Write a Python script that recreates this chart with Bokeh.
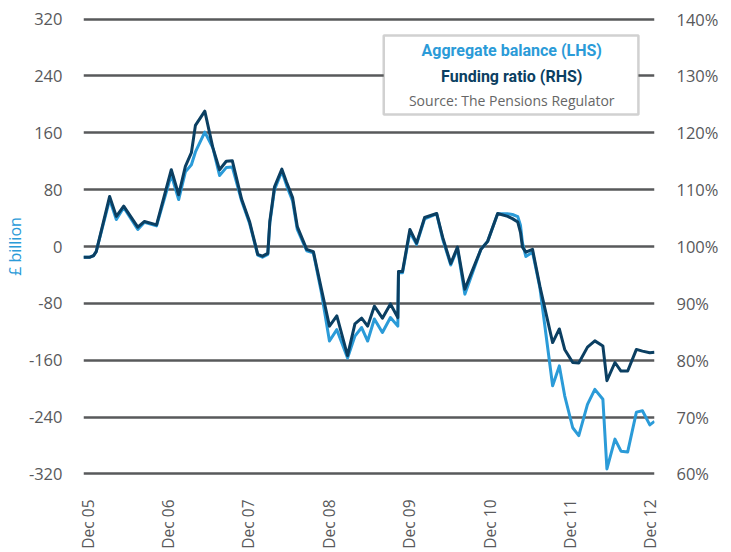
from bokeh.plotting import figure
from bokeh.models import Range1d, LinearAxis, FixedTicker, Label, BoxAnnotation
from bokeh.embed import file_html
from bokeh.resources import INLINE
import math

# months since Dec 2005
months = [-0.6, 0.3, 0.9, 1.3, 3.3, 4.3, 5.4, 7.5, 8.5, 10.3,
          12.5, 13.6, 14.6, 15.5, 16.1, 17.5, 18.7, 19.7, 20.7, 21.6,
          23.0, 24.2, 25.4, 26.1, 26.9, 27.2, 27.9, 29.0, 29.7, 30.6,
          31.3, 32.7, 33.7, 34.9, 36.1, 37.2, 38.8, 39.9, 40.9, 41.8,
          42.8, 44.0, 45.2, 46.3, 46.4, 47.0, 48.1, 49.1, 50.3, 52.1,
          53.0, 54.2, 55.2, 56.3, 58.7, 59.7, 61.2, 62.7, 63.4, 64.2,
          64.6, 64.9, 65.4, 66.4, 67.5, 69.4, 70.4, 71.2, 72.4, 73.3,
          74.6, 75.7, 76.9, 77.5, 78.7, 79.6, 80.6, 81.9, 82.8, 83.9,
          84.6]

# Aggregate balance, £ billion (LHS)
balance = [-15, -15, -13, -7, 66, 38, 55, 24, 34, 29,
           101, 66, 105, 115, 133, 161, 139, 100, 111, 112,
           64, 32, -12, -15, -11, 33, 80, 106, 86, 64,
           24, -6, -9, -65, -133, -117, -157, -126, -114, -133,
           -102, -121, -100, -112, -37, -37, 20, 3, 39, 46,
           10, -26, -3, -67, -4, 7, 46, 46, 45, 42,
           30, 5, -14, -8, -58, -196, -168, -210, -255, -266,
           -222, -201, -215, -313, -271, -288, -289, -233, -231, -251,
           -246]

# Funding ratio, % (RHS)
funding = [98.1, 98.1, 98.4, 99.1, 108.8, 105.3, 107.1, 103.4, 104.4, 103.8,
           113.5, 109.1, 114.1, 116.5, 121.3, 123.8, 117.4, 113.5, 115.0, 115.1,
           108.3, 104.3, 98.6, 98.3, 98.8, 104.4, 110.5, 113.6, 111.3, 108.6,
           103.5, 99.5, 99.1, 92.5, 86.0, 87.8, 80.8, 86.4, 87.4, 86.0,
           89.5, 87.4, 89.9, 87.5, 95.6, 95.6, 103.0, 100.6, 105.1, 105.8,
           101.6, 97.0, 99.9, 92.5, 99.5, 100.9, 105.8, 105.3, 104.9, 104.3,
           102.5, 99.9, 99.0, 99.5, 93.0, 83.1, 85.5, 81.9, 79.6, 79.5,
           82.3, 83.4, 82.5, 76.4, 79.6, 78.1, 78.1, 81.9, 81.6, 81.3,
           81.4]

x_ticks = [0, 12, 24, 36, 48, 60, 72, 84]
x_labels = ["Dec 05", "Dec 06", "Dec 07", "Dec 08", "Dec 09", "Dec 10", "Dec 11", "Dec 12"]
left_ticks = [-320, -240, -160, -80, 0, 80, 160, 240, 320]
left_labels = ["-320", "-240", "-160", "-80", "0", "80", "160", "240", "320"]
right_ticks = [60, 70, 80, 90, 100, 110, 120, 130, 140]
right_labels = ["60%", "70%", "80%", "90%", "100%", "110%", "120%", "130%", "140%"]

LIGHT = "#2b9bd8"
DARK = "#0b3f62"
GRID = "#58595b"
TXT = "#58595b"
FONT = "Open Sans"

p = figure(frame_width=571, frame_height=462, output_backend="svg", toolbar_location=None,
           x_range=Range1d(-0.6, 84.6), y_range=Range1d(-325, 325),
           min_border_left=76, min_border_right=60, min_border_top=15, min_border_bottom=66)
p.outline_line_color = None
p.background_fill_color = "white"
p.border_fill_color = "white"

p.extra_y_ranges = {"ratio": Range1d(100 - 325 / 8, 100 + 325 / 8)}

# grid
p.xgrid.grid_line_color = None
p.ygrid.grid_line_color = GRID
p.ygrid.grid_line_width = 2.5
p.ygrid.ticker = FixedTicker(ticks=left_ticks)

for ax in [p.xaxis[0], p.yaxis[0]]:
    ax.axis_line_color = None
    ax.major_tick_line_color = None
    ax.minor_tick_line_color = None
    ax.major_label_text_color = TXT
    ax.major_label_text_font = FONT

p.xaxis.ticker = FixedTicker(ticks=x_ticks)
p.xaxis.major_label_overrides = {t: l for t, l in zip(x_ticks, x_labels)}
p.xaxis.major_label_orientation = math.pi / 2
p.xaxis.major_label_standoff = 16
p.xaxis.major_label_text_font_size = "15.5px"

p.yaxis.ticker = FixedTicker(ticks=left_ticks)
p.yaxis.major_label_overrides = {t: l for t, l in zip(left_ticks, left_labels)}
p.yaxis.major_label_standoff = 15
p.yaxis.major_label_text_font_size = "16.5px"
p.yaxis.axis_label = "£ billion"
p.yaxis.axis_label_text_color = LIGHT
p.yaxis.axis_label_text_font = FONT
p.yaxis.axis_label_text_font_style = "normal"
p.yaxis.axis_label_text_font_size = "16px"
p.yaxis.axis_label_standoff = 0

ra = LinearAxis(y_range_name="ratio", ticker=FixedTicker(ticks=right_ticks))
ra.major_label_overrides = {t: l for t, l in zip(right_ticks, right_labels)}
ra.axis_line_color = None
ra.major_tick_line_color = None
ra.minor_tick_line_color = None
ra.major_label_text_color = TXT
ra.major_label_text_font = FONT
ra.major_label_text_font_size = "16.5px"
ra.major_label_standoff = 16
p.add_layout(ra, "right")

p.line(months, balance, line_color=LIGHT, line_width=3, line_join="round")
p.line(months, funding, line_color=DARK, line_width=3, line_join="round", y_range_name="ratio")

# legend box
box = BoxAnnotation(left=44.2, right=82.2, bottom=185.7, top=296.8,
                    fill_color="white", fill_alpha=1.0, line_color="#666666", line_width=2.5)
p.add_layout(box)
xc = 63.3
p.add_layout(Label(x=xc, y=276, text="Aggregate balance (LHS)", text_align="center", text_baseline="middle",
                   text_color=LIGHT, text_font="Roboto", text_font_style="bold", text_font_size="16px"))
p.add_layout(Label(x=xc, y=239, text="Funding ratio (RHS)", text_align="center", text_baseline="middle",
                   text_color=DARK, text_font="Roboto", text_font_style="bold", text_font_size="16px"))
p.add_layout(Label(x=xc, y=205, text="Source: The Pensions Regulator", text_align="center", text_baseline="middle",
                   text_color="#666666", text_font=FONT, text_font_size="14px"))

open("out.html", "w").write(file_html(p, INLINE))
